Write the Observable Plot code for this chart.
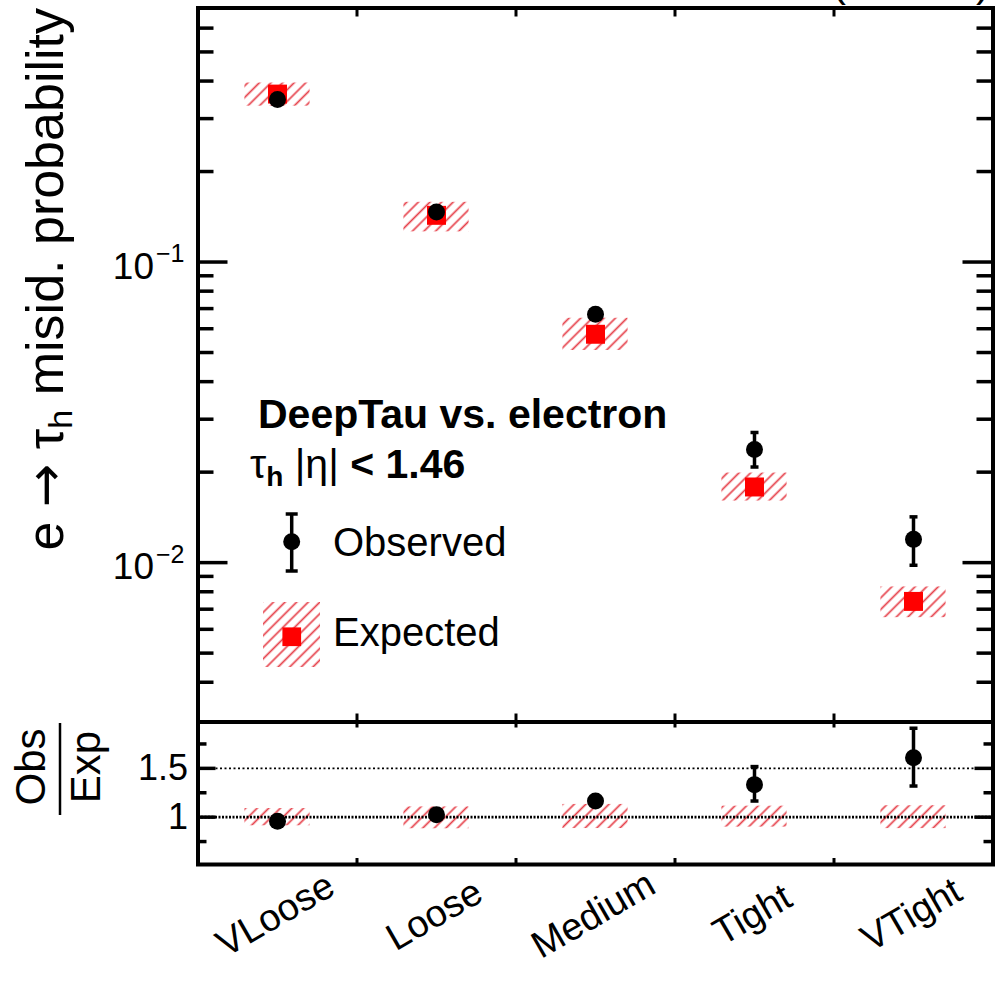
<!DOCTYPE html>
<html>
<head>
<meta charset="utf-8">
<script src="https://cdn.jsdelivr.net/npm/d3@7"></script>
<script src="https://cdn.jsdelivr.net/npm/@observablehq/plot@0.6"></script>
<style>
  html, body { margin: 0; padding: 0; background: #fff; }
  #chart { position: relative; width: 1000px; height: 983px; overflow: hidden;
           font-family: "Liberation Sans", Arial, Helvetica, sans-serif; }
  #chart svg.panel { position: absolute; left: 0; }
</style>
</head>
<body>
<div id="chart">
  <svg width="0" height="0" style="position:absolute">
    <defs>
      <pattern id="hatch" patternUnits="userSpaceOnUse" width="8.2" height="8.2" patternTransform="rotate(45)">
        <line x1="4.1" y1="0" x2="4.1" y2="8.2" stroke="#e6404a" stroke-width="1.7"/>
      </pattern>
    </defs>
  </svg>
</div>
<script>
// Working points of the DeepTau vs. electron discriminator
const categories = ["VLoose", "Loose", "Medium", "Tight", "VTight"];

// Observed e -> tau_h misidentification probability, with its uncertainty interval
const observed = [0.347, 0.1466, 0.0670, 0.0238, 0.01195];
const obsLow   = [0.343, 0.1452, 0.0656, 0.0208, 0.0098];
const obsHigh  = [0.351, 0.1480, 0.0684, 0.0271, 0.0142];

// Expected (simulation) probability and its uncertainty band
const expected = [0.362, 0.143, 0.0575, 0.01785, 0.00743];
const expLow   = [0.330, 0.126, 0.0508, 0.01603, 0.00656];
const expHigh  = [0.394, 0.158, 0.0650, 0.01986, 0.0083];

// Axis ticks
const majorTicksTop = [0.01, 0.1];
const minorTicksTop = [0.004, 0.005, 0.006, 0.007, 0.008, 0.009,
                       0.02, 0.03, 0.04, 0.05, 0.06, 0.07, 0.08, 0.09,
                       0.2, 0.3, 0.4, 0.5, 0.6];
const majorTicksRatio = [1, 1.5];
const minorTicksRatio = [0.75, 1.25, 1.75];

const FONT = '"Liberation Sans", Arial, Helvetica, sans-serif';
const W = 1000, ML = 197.5, MR = 7.5;
const FW = W - ML - MR;
const half = 0.205;            // half width of the expected-uncertainty box (category units)
const bounds = d3.range(1, categories.length).map(k => k - 0.5);

const rows = categories.map((c, i) => ({
  i, c,
  obs: observed[i], obsLo: obsLow[i], obsHi: obsHigh[i],
  exp: expected[i], expLo: expLow[i], expHi: expHigh[i]
}));
const ratioRows = rows.map(d => ({
  i: d.i,
  r: d.obs / d.exp, rLo: d.obsLo / d.exp, rHi: d.obsHi / d.exp,
  bLo: d.expLo / d.exp, bHi: d.expHi / d.exp
}));

// horizontal cap used at both ends of an error bar
const cap = {draw(ctx, size) { const w = Math.sqrt(size / Math.PI); ctx.moveTo(-w, 0); ctx.lineTo(w, 0); }};

const yTicks = (values, len, sw) => [
  Plot.ruleY(values, {insetRight: FW - len, strokeWidth: sw}),
  Plot.ruleY(values, {insetLeft: FW - len, strokeWidth: sw})
];
const xTicks = (fh, lenTop, lenBottom, sw) => [
  Plot.ruleX(bounds, {insetBottom: fh - lenTop, strokeWidth: sw}),
  Plot.ruleX(bounds, {insetTop: fh - lenBottom, strokeWidth: sw})
];
const errorMarks = (data, y, lo, hi) => [
  Plot.ruleX(data, {x: "i", y1: lo, y2: hi, strokeWidth: 3.5}),
  Plot.dot(data, {x: "i", y: lo, symbol: cap, r: 4, fill: "none", stroke: "black", strokeWidth: 3.5}),
  Plot.dot(data, {x: "i", y: hi, symbol: cap, r: 4, fill: "none", stroke: "black", strokeWidth: 3.5}),
  Plot.dot(data, {x: "i", y, r: 8.5, fill: "black"})
];

// ---------- upper panel: probabilities on a log scale ----------
const topH = 724, topMT = 7.5, topMB = 2.5;
const topFH = topH - topMT - topMB;
const topPlot = Plot.plot({
  width: W, height: topH,
  marginLeft: ML, marginRight: MR, marginTop: topMT, marginBottom: topMB,
  style: {background: "transparent", overflow: "visible", fontFamily: FONT},
  x: {type: "linear", domain: [-0.5, categories.length - 0.5], axis: null},
  y: {type: "log", domain: [0.00295, 0.70], axis: null},
  marks: [
    Plot.rect(rows, {x1: d => d.i - half, x2: d => d.i + half, y1: "expLo", y2: "expHi", fill: "url(#hatch)"}),
    Plot.dot(rows, {x: "i", y: "exp", symbol: "square", r: 10.7, fill: "#ff0000"}),
    ...errorMarks(rows, "obs", "obsLo", "obsHi"),
    ...yTicks(majorTicksTop, 30, 3.5),
    ...yTicks(minorTicksTop, 16, 3.5),
    ...xTicks(topFH, 9, 8, 3),
    Plot.frame({strokeWidth: 4}),
    Plot.text(majorTicksTop, {y: d => d, text: () => "10", frameAnchor: "left",
      textAnchor: "end", dx: -44, dy: 5, fontSize: 37}),
    Plot.text(majorTicksTop, {y: d => d, text: d => "\u2212" + Math.round(-Math.log10(d)), frameAnchor: "left",
      textAnchor: "start", dx: -42, dy: -8, fontSize: 25})
  ]
});
topPlot.classList.add("panel");
topPlot.style.top = "0px";

// ---------- lower panel: observed / expected ----------
const botTop = 700, botH = 283, botMT = 21.5, botMB = 119;
const botFH = botH - botMT - botMB;
const botPlot = Plot.plot({
  width: W, height: botH,
  marginLeft: ML, marginRight: MR, marginTop: botMT, marginBottom: botMB,
  style: {background: "transparent", overflow: "visible", fontFamily: FONT},
  x: {type: "linear", domain: [-0.5, categories.length - 0.5], axis: null},
  y: {domain: [0.515, 1.975], axis: null},
  marks: [
    Plot.rect(ratioRows, {x1: d => d.i - half, x2: d => d.i + half, y1: "bLo", y2: "bHi", fill: "url(#hatch)"}),
    Plot.ruleY([1.5], {strokeDasharray: "2,2.5", strokeWidth: 1.6}),
    Plot.ruleY([1], {strokeDasharray: "2,1.5", strokeWidth: 2.6}),
    ...errorMarks(ratioRows, "r", "rLo", "rHi"),
    ...yTicks(majorTicksRatio, 18, 3.5),
    ...yTicks(minorTicksRatio, 9, 3.5),
    ...xTicks(botFH, 6, 6, 3),
    Plot.frame({strokeWidth: 4}),
    Plot.text(majorTicksRatio, {y: d => d, text: d => String(d), frameAnchor: "left",
      textAnchor: "end", dx: -10, fontSize: 36}),
    Plot.text(categories, {x: (d, i) => i, text: d => d, frameAnchor: "bottom",
      dx: 4, dy: 61, rotate: -30, fontSize: 38})
  ]
});
botPlot.classList.add("panel");
botPlot.style.top = botTop + "px";

const chart = document.getElementById("chart");
chart.appendChild(botPlot);
chart.appendChild(topPlot);

// ---------- titles, legend and annotation text ----------
const st = d3.select(topPlot);

// luminosity / energy label above the frame
st.append("text").attr("x", 990).attr("y", -4).attr("text-anchor", "end")
  .style("font-size", "42px").text("138 fb\u207B\u00B9 (13 TeV)");

// y-axis title
const yt = st.append("text").attr("transform", "translate(63,8) rotate(-90)")
  .attr("text-anchor", "end").style("font-size", "52px");
yt.append("tspan").text("e ");
yt.append("tspan").style("font-family", '"DejaVu Sans", sans-serif').text("\u2192");
yt.append("tspan").text(" \u03C4");
yt.append("tspan").attr("dy", 9).style("font-size", "34px").text("h");
yt.append("tspan").attr("dy", -9).text(" misid. probability");

// annotation
st.append("text").attr("x", 258).attr("y", 428).attr("text-anchor", "start")
  .style("font-size", "41px").style("font-weight", "bold").text("DeepTau vs. electron");
const sel = st.append("text").attr("x", 250).attr("y", 478).attr("text-anchor", "start")
  .style("font-size", "41px");
sel.append("tspan").text("\u03C4");
sel.append("tspan").attr("dy", 8).style("font-size", "28px").style("font-weight", "bold").text("h");
sel.append("tspan").attr("dy", -8).text(" |\u03B7|");
sel.append("tspan").style("font-weight", "bold").text(" < 1.46");

// legend
const lg = st.append("g");
lg.append("line").attr("x1", 291.7).attr("x2", 291.7).attr("y1", 514).attr("y2", 571)
  .attr("stroke", "black").attr("stroke-width", 3.5);
[514, 571].forEach(y => lg.append("line").attr("x1", 285.7).attr("x2", 297.7).attr("y1", y).attr("y2", y)
  .attr("stroke", "black").attr("stroke-width", 3.5));
lg.append("circle").attr("cx", 291.7).attr("cy", 541.7).attr("r", 8.5).attr("fill", "black");
lg.append("text").attr("x", 333).attr("y", 556).attr("text-anchor", "start")
  .style("font-size", "40px").text("Observed");
lg.append("rect").attr("x", 263).attr("y", 602).attr("width", 57).attr("height", 65).attr("fill", "url(#hatch)");
lg.append("rect").attr("x", 282.4).attr("y", 627.4).attr("width", 18.7).attr("height", 18.7).attr("fill", "#ff0000");
lg.append("text").attr("x", 333).attr("y", 646).attr("text-anchor", "start")
  .style("font-size", "40px").text("Expected");

// ratio-panel title: Obs over Exp
const sb = d3.select(botPlot);
sb.append("text").attr("transform", "translate(45,67) rotate(-90)").attr("text-anchor", "middle")
  .style("font-size", "42px").text("Obs");
sb.append("line").attr("x1", 60).attr("x2", 60).attr("y1", 23).attr("y2", 115)
  .attr("stroke", "black").attr("stroke-width", 2.5);
sb.append("text").attr("transform", "translate(100,67) rotate(-90)").attr("text-anchor", "middle")
  .style("font-size", "42px").text("Exp");
</script>
</body>
</html>
